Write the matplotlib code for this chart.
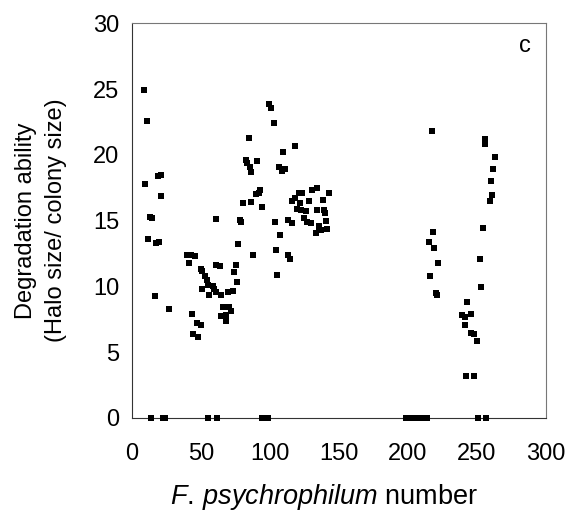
import matplotlib.pyplot as plt

plt.rcParams['font.family'] = ['Liberation Sans', 'DejaVu Sans']
plt.rcParams['mathtext.fontset'] = 'custom'
plt.rcParams['mathtext.it'] = 'Liberation Sans:italic'
plt.rcParams['mathtext.rm'] = 'Liberation Sans'

# isolates with measurable degradation
strain_no = [
    8.7, 11.3, 9.5, 13.1, 14.4, 11.8, 19.2, 21.0, 21.5, 17.6, 19.7, 16.5, 27.0,
    39.9, 42.6, 46.0, 41.2, 49.9, 51.2, 53.0, 54.4, 55.2, 51.2, 58.6, 59.6, 56.0,
    61.2, 64.4, 69.6, 73.5, 76.4, 74.3, 75.4, 61.2, 63.6, 60.9, 43.3, 47.3, 49.9,
    44.7, 48.1, 66.2, 70.1, 72.2, 64.9, 68.3, 68.6,
    77.2, 78.3, 79.3, 80.6, 82.7, 83.5, 84.8, 85.4, 86.7, 90.6, 88.0, 86.2, 89.8,
    91.9, 93.2, 94.3, 99.3, 100.6, 103.0, 103.8, 104.5, 105.3, 107.7, 106.4, 108.5,
    111.1, 109.5, 112.9, 113.5, 114.3, 116.4, 115.8, 118.2, 118.2, 120.0, 122.7,
    126.1, 121.0, 123.4, 122.1, 124.8, 126.9, 129.5, 128.7, 130.5, 134.2, 133.2,
    135.8, 134.2, 135.3, 137.1, 139.2, 140.0, 140.5, 138.7, 141.8, 142.6,
    217.5, 215.7, 218.0, 219.3, 221.9, 216.2, 220.6, 221.4,
    243.0, 239.0, 241.7, 245.6, 241.1, 245.6, 248.2, 250.3, 242.2, 247.7,
    252.7, 252.2, 254.3, 255.6, 256.1, 259.3, 260.8, 260.0, 261.4, 263.5,
]
halo_ratio = [
    24.9, 22.6, 17.75, 15.3, 15.2, 13.6, 18.4, 18.5, 16.9, 13.3, 13.4, 9.3, 8.3,
    12.4, 12.35, 12.3, 11.75, 11.35, 11.2, 10.75, 10.5, 10.1, 9.8, 10.06, 9.83, 9.37,
    9.6, 9.37, 9.58, 9.68, 10.3, 11.1, 11.6, 11.6, 11.55, 15.1, 7.9, 7.24, 7.06,
    6.38, 6.12, 8.46, 8.46, 8.15, 7.75, 7.82, 7.37,
    13.2, 15.06, 14.9, 16.3, 19.6, 19.4, 21.3, 19.1, 18.7, 19.5, 12.4, 16.4, 17.0,
    17.1, 17.35, 16.0, 23.9, 23.6, 22.4, 14.9, 12.8, 10.85, 13.9, 19.05, 18.8,
    18.9, 20.2, 15.06, 12.4, 12.1, 14.8, 16.5, 16.7, 20.7, 15.9, 15.8,
    15.7, 17.1, 17.1, 16.3, 15.2, 14.9, 14.8, 16.5, 17.35, 17.5, 14.05,
    14.25, 15.8, 14.55, 14.3, 15.8, 15.6, 15.0, 16.6, 14.35, 17.1,
    21.8, 13.4, 14.1, 12.9, 11.75, 10.8, 9.5, 9.35,
    8.84, 7.8, 7.7, 7.9, 7.06, 6.43, 6.35, 5.87, 3.17, 3.17,
    9.93, 12.1, 14.45, 20.8, 21.2, 16.5, 16.97, 18.0, 18.9, 19.8,
]

# isolates with no halo
zero_no = [13.9, 22.3, 24.4, 55.4, 62.0, 94.6, 98.5,
           199, 202, 205, 208, 211, 214, 250.6, 256.6]
zero_ratio = [0] * len(zero_no)

fig = plt.figure(figsize=(5.68, 5.19), dpi=100)
ax = fig.add_axes([0.232, 0.195, 0.729, 0.76])

ax.scatter(strain_no, halo_ratio, marker='s', s=22, color='black', linewidths=0)
ax.scatter(zero_no, zero_ratio, marker='s', s=22, color='black', linewidths=0,
           clip_on=False, zorder=3)

ax.set_xlim(0, 300)
ax.set_ylim(0, 30)
ax.set_xticks([0, 50, 100, 150, 200, 250, 300])
ax.set_yticks([0, 5, 10, 15, 20, 25, 30])
ax.tick_params(length=0, labelsize=17)
ax.tick_params(axis='x', pad=18)
ax.tick_params(axis='y', pad=9)

for side in ['left', 'bottom']:
    ax.spines[side].set_color('#333333')
    ax.spines[side].set_linewidth(0.8)
for side in ['top', 'right']:
    ax.spines[side].set_color('#777777')
    ax.spines[side].set_linewidth(0.8)

ax.set_ylabel("Degradation ability\n(Halo size/ colony size)", fontsize=17,
              linespacing=1.45, va='center')
ax.yaxis.set_label_coords(-0.22, 0.5)
ax.set_xlabel(r"$\it{F.\,psychrophilum}$ number", fontsize=19.5, va='center')
ax.xaxis.set_label_coords(0.465, -0.2)

ax.text(285, 28.3, "c", fontsize=17, ha='center', va='center')

fig.savefig("out.png", dpi=100)
